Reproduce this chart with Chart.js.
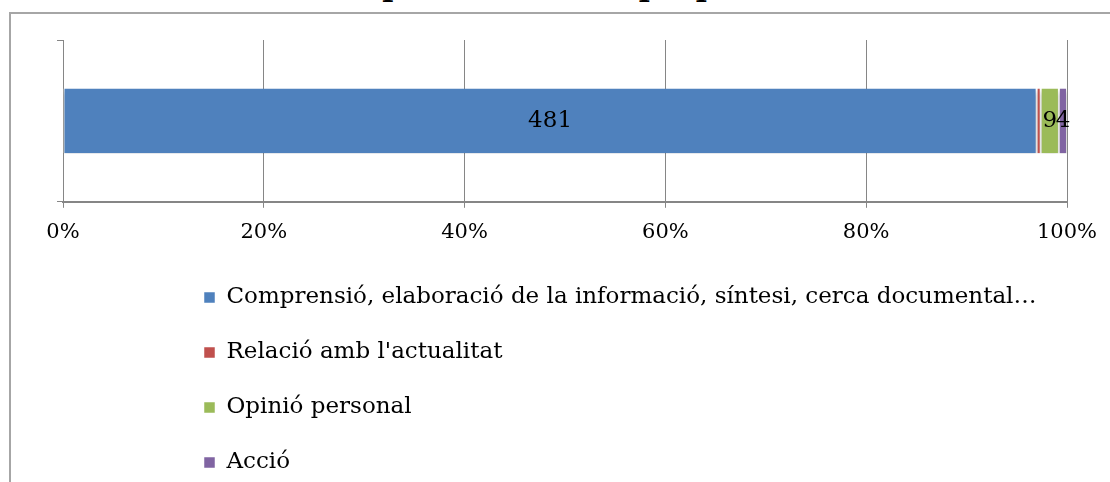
<!DOCTYPE html>
<html>
<head>
<meta charset="utf-8">
<script src="https://cdn.jsdelivr.net/npm/chart.js@4.4.1/dist/chart.umd.min.js"></script>
<style>
  html, body { margin: 0; padding: 0; background: #fff; }
  #wrap { position: relative; width: 1110px; height: 482px; overflow: hidden; }
  #frame { position: absolute; left: 9px; top: 12px; width: 1300px; height: 700px; border-top: 2px solid #a6a6a6; border-left: 2px solid #a6a6a6; }
  #title { position: absolute; left: 0; top: -32px; width: 1110px; text-align: center; font: bold 30px "DejaVu Serif"; color: #000; }
  canvas { position: absolute; left: 0; top: 0; }
</style>
</head>
<body>
<div id="wrap">
  <div id="title">Comparativa de les propostes</div>
  <div id="frame"></div>
  <canvas id="chart" width="1110" height="482"></canvas>
</div>
<script>
// dades del gràfic
const categories = [''];
const seriesNames = [
  'Comprensió, elaboració de la informació, síntesi, cerca documental…',
  'Relació amb l\'actualitat',
  'Opinió personal',
  'Acció'
];
const seriesValues = [481, 2, 9, 4];
const seriesColors = ['#4F81BD', '#C0504D', '#9BBB59', '#8064A2'];
const showValue = [true, false, true, true];
const tickLabels = ['0%', '20%', '40%', '60%', '80%', '100%'];

const total = seriesValues.reduce((a, b) => a + b, 0);
const fontFamily = '"DejaVu Serif", serif';

// ombra sota la barra
const barShadow = {
  id: 'barShadow',
  beforeDatasetsDraw(chart) {
    const ctx = chart.ctx;
    ctx.save();
    ctx.shadowColor = 'rgba(0, 0, 0, 0.35)';
    ctx.shadowOffsetY = 3;
    ctx.shadowBlur = 5;
  },
  afterDatasetsDraw(chart) {
    chart.ctx.restore();
  }
};

// etiquetes amb el valor dins de cada segment
const valueLabels = {
  id: 'valueLabels',
  afterDatasetsDraw(chart) {
    const ctx = chart.ctx;
    ctx.save();
    ctx.font = '23px ' + fontFamily;
    ctx.fillStyle = '#000';
    ctx.textAlign = 'center';
    ctx.textBaseline = 'middle';
    chart.data.datasets.forEach((ds, i) => {
      if (!showValue[i]) return;
      const meta = chart.getDatasetMeta(i);
      meta.data.forEach((bar) => {
        const p = bar.getCenterPoint();
        ctx.fillText(String(seriesValues[i]), p.x, p.y);
      });
    });
    ctx.restore();
  }
};

// col·loca la llegenda en una sola columna sota el gràfic
const legendBox = {
  id: 'legendBox',
  afterLayout(chart) {
    const lg = chart.legend;
    lg.left = 172;
    lg.right = 1110;
    lg.top = 254;
    lg.bottom = 600;
    lg.width = lg.right - lg.left;
    lg.height = lg.bottom - lg.top;
  }
};

const datasets = seriesNames.map((name, i) => ({
  label: name,
  data: [seriesValues[i] / total * 100],
  backgroundColor: seriesColors[i],
  borderColor: '#ffffff',
  borderWidth: { left: 1, right: 1, top: 0, bottom: 0 },
  borderSkipped: false,
  barPercentage: 0.4,
  categoryPercentage: 1
}));

const ctx = document.getElementById('chart').getContext('2d');
const chart = new Chart(ctx, {
  type: 'bar',
  data: {
    labels: categories,
    datasets: datasets
  },
  plugins: [barShadow, valueLabels, legendBox],
  options: {
    indexAxis: 'y',
    responsive: false,
    animation: false,
    layout: {
      padding: { left: 56, right: 43, top: 40, bottom: 225 }
    },
    scales: {
      x: {
        stacked: true,
        min: 0,
        max: 100,
        ticks: {
          stepSize: 20,
          color: '#000',
          padding: 12,
          font: { family: fontFamily, size: 21 },
          callback: (v, i) => tickLabels[i]
        },
        grid: { color: '#868686', tickLength: 6, lineWidth: 1 },
        border: { color: '#868686', width: 2 }
      },
      y: {
        stacked: true,
        ticks: { display: false },
        grid: { drawOnChartArea: false, offset: true, tickLength: 6, color: '#868686' },
        border: { color: '#868686', width: 1 }
      }
    },
    plugins: {
      title: { display: false },
      tooltip: { enabled: false },
      legend: {
        position: 'left',
        align: 'start',
        maxWidth: 1,
        labels: {
          boxWidth: 11,
          boxHeight: 11,
          padding: 32,
          color: '#000',
          font: { family: fontFamily, size: 23 }
        }
      }
    }
  }
});
</script>
</body>
</html>
